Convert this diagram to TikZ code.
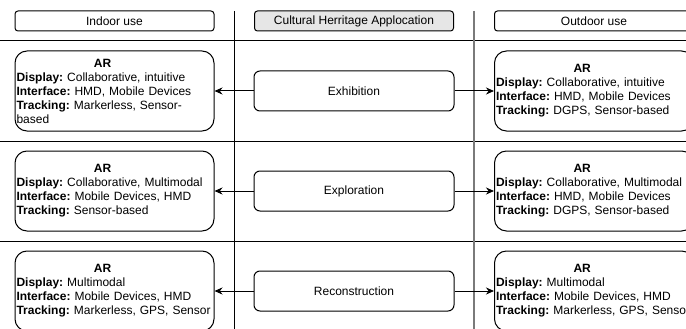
\documentclass[tikz,border=0pt]{standalone}
\usepackage{fontspec}
\setmainfont{Liberation Sans}
\usetikzlibrary{arrows.meta}
\definecolor{myGrey}{HTML}{e6e6e6}
\definecolor{myLine}{HTML}{7a7a7a}
\frenchspacing
\hyphenpenalty=10000

\begin{document}
\begin{tikzpicture}[x=1pt, y=-1pt, >={Stealth[length=8pt,width=7pt]}, line width=1pt]

  \tikzstyle{hdr}=[rectangle,draw,rounded corners=3pt,minimum width=199pt,minimum height=20pt,inner sep=0pt,font=\fontsize{12}{14}\selectfont]
  \tikzstyle{arbox}=[rectangle,draw,rounded corners=12pt,text width=196pt,inner xsep=1.5pt,minimum height=80pt,align=left,font=\fontsize{12}{14}\selectfont]
  \tikzstyle{app}=[rectangle,draw,rounded corners=6pt,minimum width=200pt,minimum height=40pt,inner sep=0pt,font=\fontsize{12}{14}\selectfont]

  \useasboundingbox (0,0) rectangle (686,329);
  \clip (0,0) rectangle (686,329);

  % separators
  \draw (0,41) -- (686,41);
  \draw (0,141) -- (686,141);
  \draw (0,241) -- (686,241);
  \draw (234,11) -- (234,329);
  \draw [myLine, line width=1.3pt] (474,11) -- (474,329);

  % headers
  \node[hdr] at (114.5,21) (indoor) {Indoor use};
  \node[hdr, fill=myGrey] at (354,21) (heritage) {Cultural Herritage Applocation};
  \node[hdr] at (594,21) (outdoor) {Outdoor use};

  % applications
  \node[app] at (354,91) (exhib) {Exhibition};
  \node[app] at (354,191) (explor) {Exploration};
  \node[app] at (354,291) (recon) {Reconstruction};

  % indoor
  \node[arbox] at (114.5,91) (inExhib) {\hspace*{77.5pt}\textbf{AR}\\\textbf{Display:} Collaborative, intuitive\\\textbf{Interface:} HMD, Mobile Devices\\\textbf{Tracking:} Markerless, Sensor-\\based};
  \node[arbox] at (114.5,191) (inExplor) {\hspace*{77.5pt}\textbf{AR}\\\textbf{Display:} Collaborative, Multimodal\\\textbf{Interface:} Mobile Devices, HMD\\\textbf{Tracking:} Sensor-based};
  \node[arbox] at (114.5,291) (inRecon) {\hspace*{77.5pt}\textbf{AR}\\\textbf{Display:} Multimodal\\\textbf{Interface:} Mobile Devices, HMD\\\textbf{Tracking:} Markerless, GPS, Sensor};

  % outdoor
  \node[arbox] at (594,91) (outExhib) {\hspace*{77.5pt}\textbf{AR}\\\textbf{Display:} Collaborative, intuitive\\\textbf{Interface:} HMD, Mobile Devices\\\textbf{Tracking:} DGPS, Sensor-based};
  \node[arbox] at (594,191) (outExplor) {\hspace*{77.5pt}\textbf{AR}\\\textbf{Display:} Collaborative, Multimodal\\\textbf{Interface:} HMD, Mobile Devices\\\textbf{Tracking:} DGPS, Sensor-based};
  \node[arbox] at (594,291) (outRecon) {\hspace*{77.5pt}\textbf{AR}\\\textbf{Display:} Multimodal\\\textbf{Interface:} Mobile Devices, HMD\\\textbf{Tracking:} Markerless, GPS, Sensor};

  \draw [->] (exhib.west) to (inExhib.east);
  \draw [->] (explor.west) to (inExplor.east);
  \draw [->] (recon.west) to (inRecon.east);

  \draw [->] (exhib.east) to (outExhib.west);
  \draw [->] (explor.east) to (outExplor.west);
  \draw [->] (recon.east) to (outRecon.west);

\end{tikzpicture}
\end{document}
